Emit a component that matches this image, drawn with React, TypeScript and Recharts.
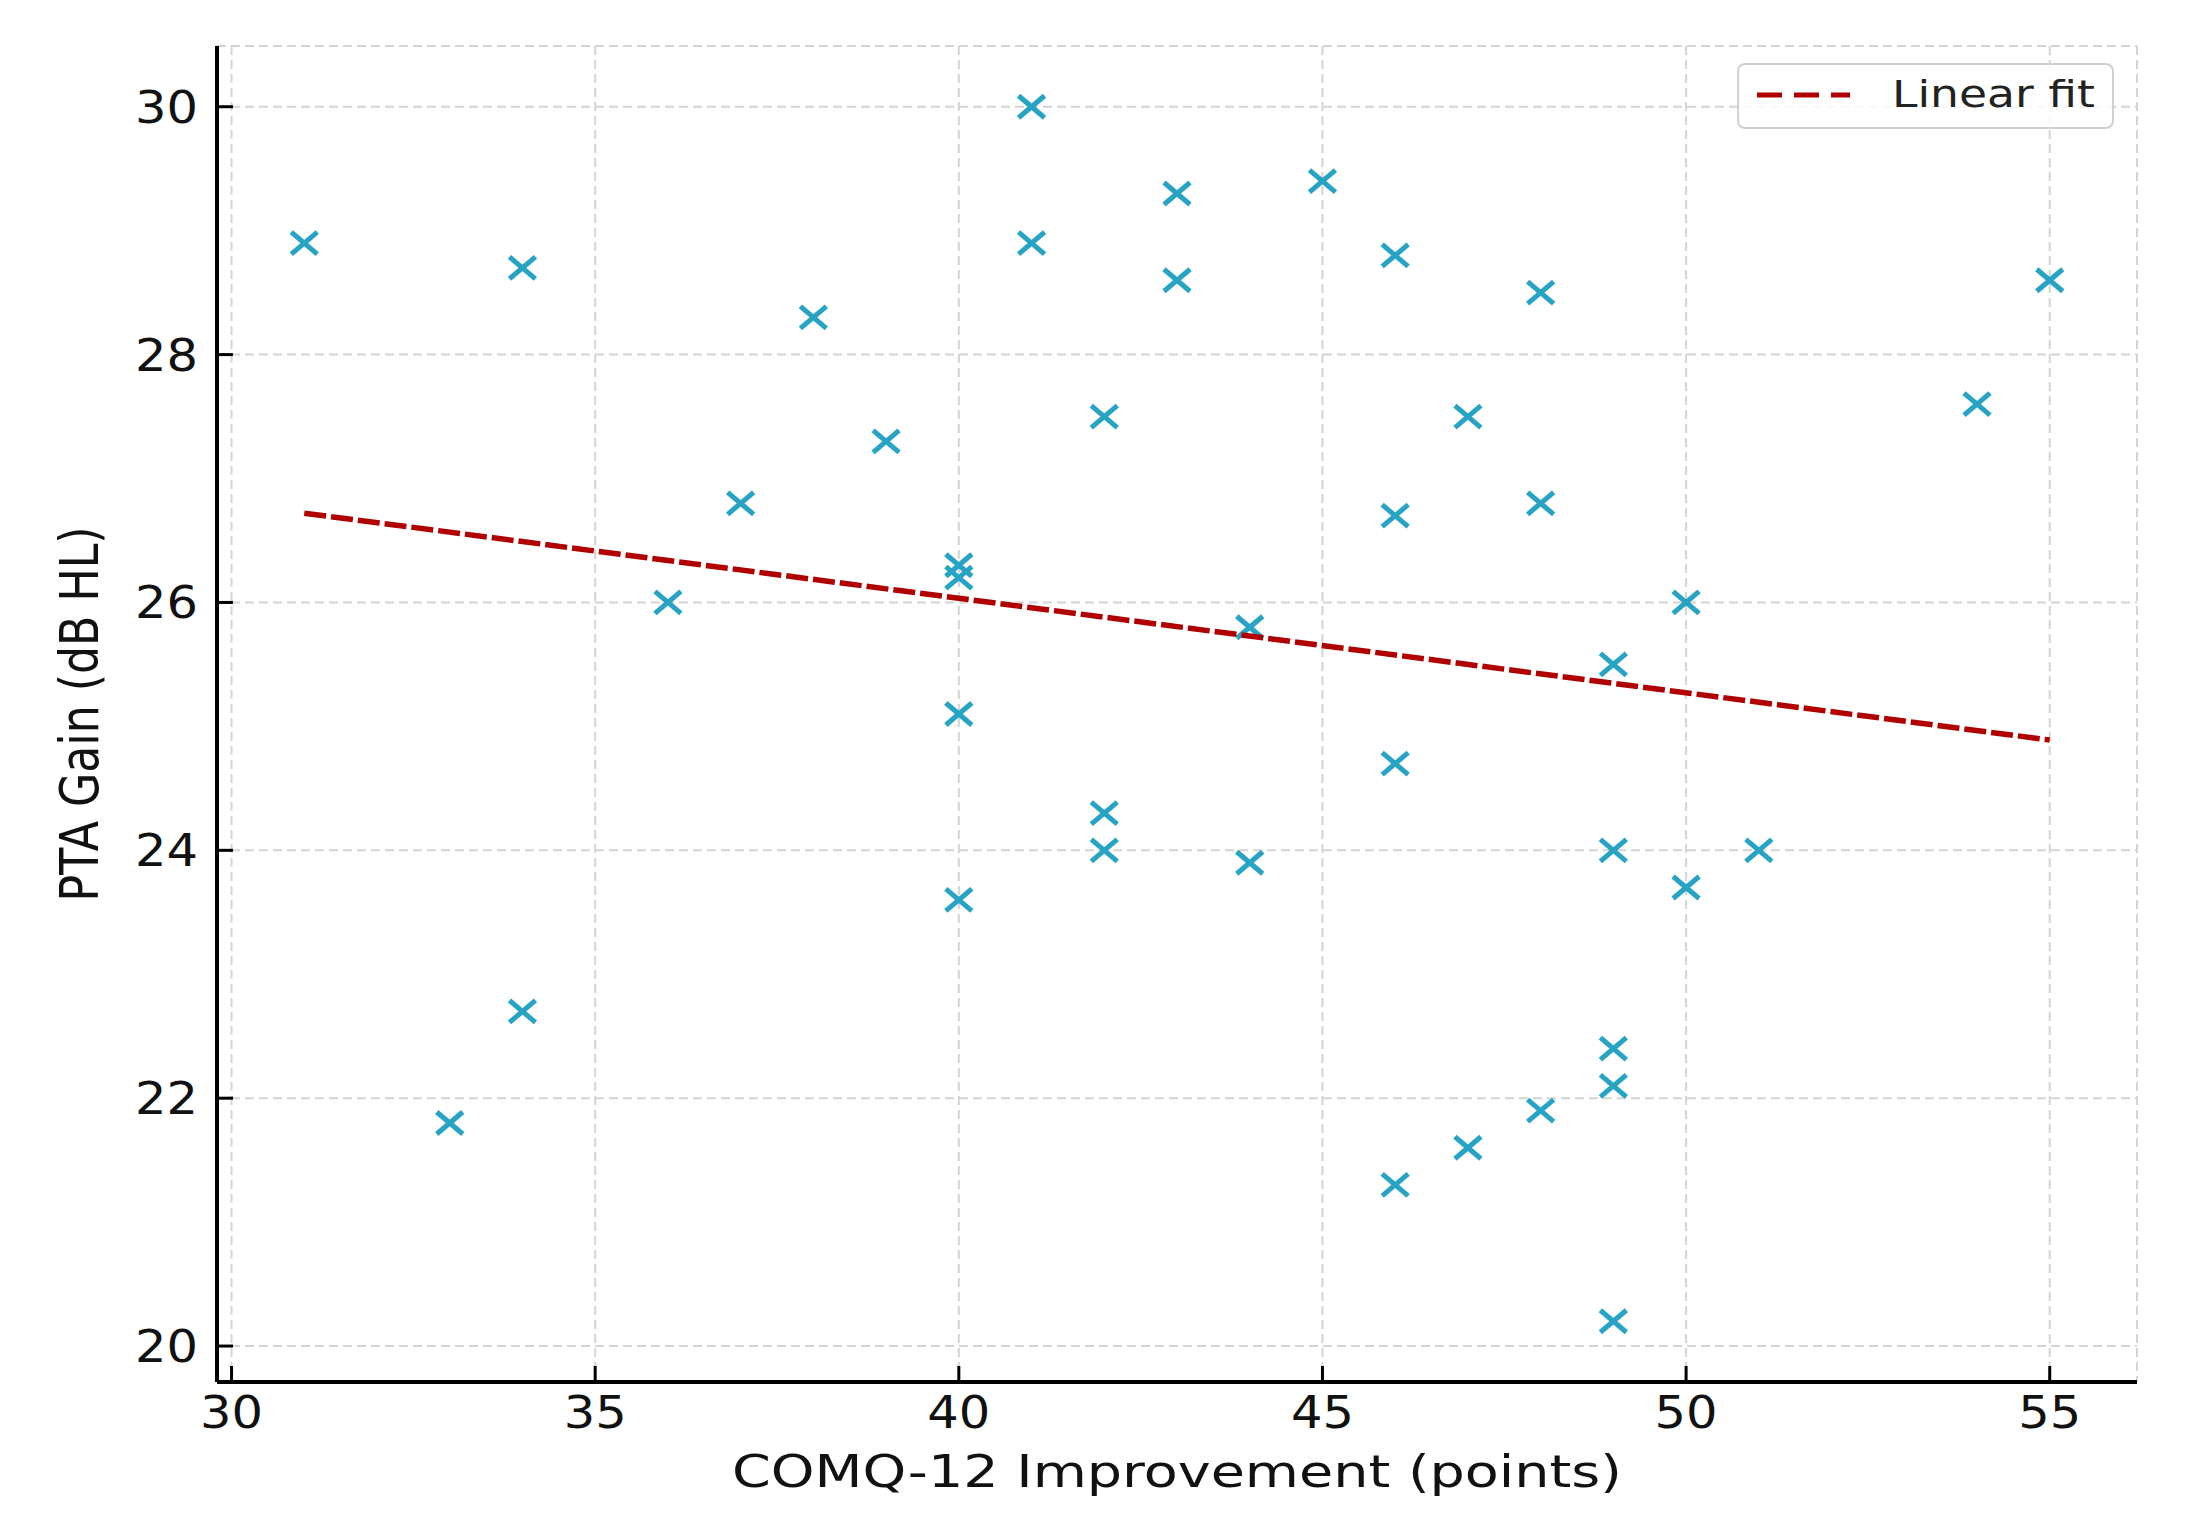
import React from 'react';
import { ScatterChart, Scatter, XAxis, YAxis, CartesianGrid, Legend } from 'recharts';

// COMQ-12 improvement (points) vs PTA gain (dB HL)
const comqImprovement = [
  31, 34, 34, 33, 36, 37, 38, 39, 40, 40, 40, 40, 41, 41, 42, 42, 42, 43, 43, 44, 44,
  45, 46, 46, 46, 46, 47, 47, 48, 48, 48, 49, 49, 49, 49, 49, 50, 50, 51, 54, 55,
];
const ptaGain = [
  28.9, 28.7, 22.7, 21.8, 26.0, 26.8, 28.3, 27.3, 26.3, 26.2, 25.1, 23.6, 30.0, 28.9, 27.5, 24.3, 24.0, 29.3, 28.6, 25.8, 23.9,
  29.4, 28.8, 26.7, 24.7, 21.3, 27.5, 21.6, 28.5, 26.8, 21.9, 25.5, 24.0, 22.4, 22.1, 20.2, 26.0, 23.7, 24.0, 27.6, 28.6,
];

// linear fit end points
const fitX = [31, 55];
const fitY = [26.72, 24.89];

const xTicks = [30, 35, 40, 45, 50, 55];
const yTicks = [20, 22, 24, 26, 28, 30];

const points = comqImprovement.map((x, i) => ({ x, y: ptaGain[i] }));
const fitLine = fitX.map((x, i) => ({ x, y: fitY[i] }));

const FONT = '"DejaVu Sans", sans-serif';
const MARKER = '#27a3c4';
const FIT = '#b00000';

const XMark = (props: any) => {
  const { cx, cy } = props;
  if (cx == null || cy == null) return <g />;
  return (
    <g stroke={MARKER} strokeWidth={5} strokeLinecap="butt">
      <line x1={cx - 13} y1={cy - 11} x2={cx + 13} y2={cy + 11} />
      <line x1={cx - 13} y1={cy + 11} x2={cx + 13} y2={cy - 11} />
    </g>
  );
};

const XTick = (props: any) => {
  const { x, y, payload } = props;
  return (
    <g>
      <line x1={x} y1={y} x2={x} y2={y - 16} stroke="#000" strokeWidth={3} />
      <text transform={`translate(${x},${y + 46}) scale(1.1,1)`} textAnchor="middle"
        fontSize={45} fontFamily={FONT} fill="#111">{payload.value}</text>
    </g>
  );
};

const YTick = (props: any) => {
  const { x, y, payload } = props;
  return (
    <g>
      <line x1={x} y1={y} x2={x + 16} y2={y} stroke="#000" strokeWidth={3} />
      <text transform={`translate(${x - 19},${y + 16}) scale(1.1,1)`} textAnchor="end"
        fontSize={45} fontFamily={FONT} fill="#111">{payload.value}</text>
    </g>
  );
};

const XLabel = (props: any) => {
  const vb = props.viewBox || { x: 217, y: 1382, width: 1920 };
  const cx = vb.x + vb.width / 2;
  return (
    <text x={cx} y={vb.y + 105} textAnchor="middle" fontSize={44} fontFamily={FONT} fill="#111"
      textLength={890} lengthAdjust="spacingAndGlyphs">
      COMQ-12 Improvement (points)
    </text>
  );
};

const YLabel = (props: any) => {
  const vb = props.viewBox || { x: 97, y: 46, height: 1336 };
  const cy = vb.y + vb.height / 2;
  return (
    <text transform={`translate(98,${cy}) rotate(-90) scale(1,1.2)`} textAnchor="middle"
      fontSize={44} fontFamily={FONT} fill="#111" textLength={375} lengthAdjust="spacingAndGlyphs">
      PTA Gain (dB HL)
    </text>
  );
};

const FitLegend = () => (
  <svg width={377} height={66} style={{ display: 'block' }}>
    <rect x={1} y={1} width={375} height={64} rx={7} ry={7} fill="#fff" fillOpacity={0.8}
      stroke="#d0d0d0" strokeWidth={2} />
    <line x1={20} y1={32} x2={113} y2={32} stroke={FIT} strokeWidth={5} strokeDasharray="25 12" />
    <text x={155} y={44} fontSize={37.5} fontFamily={FONT} fill="#222"
      textLength={203} lengthAdjust="spacingAndGlyphs">Linear fit</text>
  </svg>
);

export default function App() {
  return (
    <div style={{ position: 'absolute', left: 0, top: 0, background: '#fff', fontFamily: FONT }}>
      <ScatterChart width={2189} height={1528} margin={{ top: 46, right: 52, left: 97, bottom: 46 }}>
        <CartesianGrid stroke="#d4d4d4" strokeWidth={2} strokeDasharray="9 5" />
        <XAxis type="number" dataKey="x" domain={[29.8, 56.2]} ticks={xTicks} interval={0}
          allowDataOverflow height={100} axisLine={{ stroke: '#000', strokeWidth: 4 }}
          tickLine={false} tickSize={0} tickMargin={0} tick={<XTick />} label={<XLabel />} />
        <YAxis type="number" dataKey="y" domain={[19.71, 30.49]} ticks={yTicks} interval={0}
          allowDataOverflow width={120} axisLine={{ stroke: '#000', strokeWidth: 4 }}
          tickLine={false} tickSize={0} tickMargin={0} tick={<YTick />} label={<YLabel />} />
        <Scatter name="data" data={points} shape={<XMark />} isAnimationActive={false} />
        <Scatter name="Linear fit" data={fitLine} shape={() => <g />}
          line={{ stroke: FIT, strokeWidth: 5.5, strokeDasharray: '22 5' }} lineType="joint"
          isAnimationActive={false} />
        <Legend layout="horizontal" verticalAlign="middle" align="center"
          wrapperStyle={{ left: 1737, top: 63, width: 377, height: 66 }} content={<FitLegend />} />
      </ScatterChart>
    </div>
  );
}
